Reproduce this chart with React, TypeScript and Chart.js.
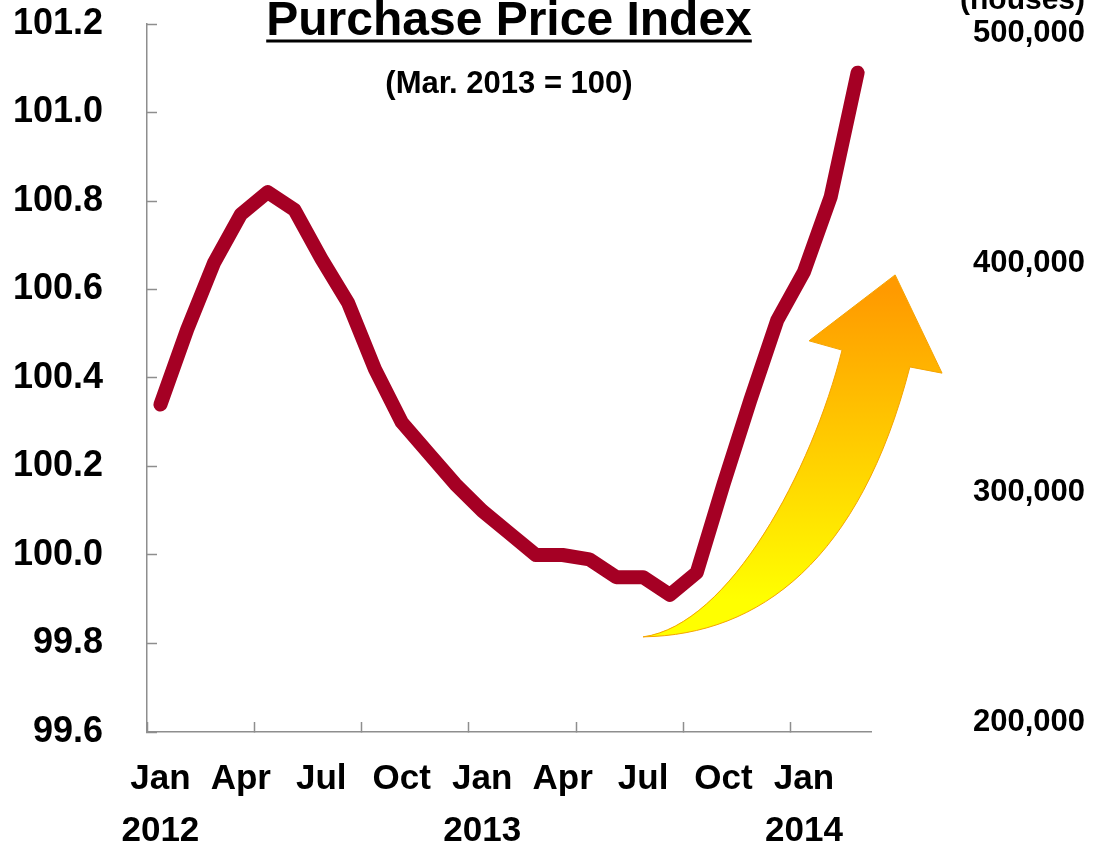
import React, { useEffect, useRef } from 'react';
import { Chart, registerables } from 'chart.js';

Chart.register(...registerables);

const FONT = "'Liberation Sans', Arial, Helvetica, sans-serif";

const categories: string[] = [
  'Jan 2012', 'Feb 2012', 'Mar 2012', 'Apr 2012', 'May 2012', 'Jun 2012',
  'Jul 2012', 'Aug 2012', 'Sep 2012', 'Oct 2012', 'Nov 2012', 'Dec 2012',
  'Jan 2013', 'Feb 2013', 'Mar 2013', 'Apr 2013', 'May 2013', 'Jun 2013',
  'Jul 2013', 'Aug 2013', 'Sep 2013', 'Oct 2013', 'Nov 2013', 'Dec 2013',
  'Jan 2014', 'Feb 2014', 'Mar 2014',
];

const priceIndex: number[] = [
  100.34, 100.51, 100.66, 100.77, 100.82, 100.78,
  100.67, 100.57, 100.42, 100.30, 100.23, 100.16,
  100.10, 100.05, 100.00, 100.00, 99.99, 99.95,
  99.95, 99.91, 99.96, 100.16, 100.35, 100.53,
  100.64, 100.81, 101.09,
];

const leftMin = 99.6;
const leftMax = 101.2;
const leftStep = 0.2;

const rightMin = 196000;
const rightMax = 504000;
const rightTicks: number[] = [200000, 300000, 400000, 500000];

const TITLE = 'Purchase Price Index';
const SUBTITLE = '(Mar. 2013 = 100)';
const RIGHT_UNIT = '(houses)';

// decorative arrow outline, in scale units: [category index, index value]
const arrowTail: [number, number] = [18.0, 99.815];
const arrowOuterCtrl1: [number, number] = [22.36, 99.819];
const arrowOuterCtrl2: [number, number] = [26.09, 99.989];
const arrowOuterEnd: [number, number] = [27.95, 100.425];
const arrowRightBarb: [number, number] = [29.15, 100.411];
const arrowTip: [number, number] = [27.4, 100.633];
const arrowLeftBarb: [number, number] = [24.19, 100.484];
const arrowNotch: [number, number] = [25.42, 100.463];
const arrowInnerCtrl1: [number, number] = [24.3, 100.192];
const arrowInnerCtrl2: [number, number] = [21.24, 99.842];
const arrowGradientEndValue = 99.9;

const AXIS_GRAY = '#8e8e8e';

const arrowPlugin = {
  id: 'arrowDeco',
  beforeDatasetsDraw(chart: any) {
    const { ctx } = chart;
    const xs = chart.scales.x;
    const ys = chart.scales.y;
    const P = (p: [number, number]) => [xs.getPixelForValue(p[0]), ys.getPixelForValue(p[1])];
    const t = P(arrowTail);
    const o1 = P(arrowOuterCtrl1);
    const o2 = P(arrowOuterCtrl2);
    const oe = P(arrowOuterEnd);
    const rb = P(arrowRightBarb);
    const tip = P(arrowTip);
    const lb = P(arrowLeftBarb);
    const n = P(arrowNotch);
    const i1 = P(arrowInnerCtrl1);
    const i2 = P(arrowInnerCtrl2);
    ctx.save();
    ctx.beginPath();
    ctx.moveTo(t[0], t[1]);
    ctx.bezierCurveTo(o1[0], o1[1], o2[0], o2[1], oe[0], oe[1]);
    ctx.lineTo(rb[0], rb[1]);
    ctx.lineTo(tip[0], tip[1]);
    ctx.lineTo(lb[0], lb[1]);
    ctx.lineTo(n[0], n[1]);
    ctx.bezierCurveTo(i1[0], i1[1], i2[0], i2[1], t[0], t[1]);
    ctx.closePath();
    const g = ctx.createLinearGradient(0, tip[1] + 15, 0, ys.getPixelForValue(arrowGradientEndValue));
    g.addColorStop(0, '#FF9A00');
    g.addColorStop(0.5, '#FFCC00');
    g.addColorStop(1, '#FFFF00');
    ctx.fillStyle = g;
    ctx.fill();
    ctx.lineWidth = 1;
    ctx.strokeStyle = '#F5A300';
    ctx.stroke();
    ctx.restore();
  },
};

const textPlugin = {
  id: 'titleTexts',
  afterDraw(chart: any) {
    const { ctx, chartArea } = chart;
    const cx = (chartArea.left + chartArea.right) / 2;
    ctx.save();
    ctx.fillStyle = '#000';
    ctx.textAlign = 'center';
    ctx.textBaseline = 'alphabetic';
    ctx.font = `bold 48px ${FONT}`;
    ctx.fillText(TITLE, cx, chartArea.top + 11);
    const w = ctx.measureText(TITLE).width;
    ctx.fillRect(cx - w / 2, chartArea.top + 15.5, w, 3);
    ctx.font = `bold 31px ${FONT}`;
    ctx.fillText(SUBTITLE, cx, chartArea.top + 69);
    ctx.textAlign = 'right';
    ctx.font = `bold 30px ${FONT}`;
    ctx.fillText(RIGHT_UNIT, chart.width - 9, 9);
    ctx.restore();
  },
};

const zeroPadding = (s: any) => {
  s.paddingTop = 0;
  s.paddingBottom = 0;
  s.paddingLeft = 0;
  s.paddingRight = 0;
};

export default function App() {
  const ref = useRef<HTMLCanvasElement>(null);

  useEffect(() => {
    if (!ref.current) return;
    const chart = new Chart(ref.current, {
      type: 'line',
      data: {
        labels: categories,
        datasets: [
          {
            label: 'Purchase Price Index',
            data: priceIndex,
            borderColor: '#A50024',
            backgroundColor: '#A50024',
            borderWidth: 14,
            borderCapStyle: 'round',
            borderJoinStyle: 'round',
            pointRadius: 0,
            tension: 0,
            fill: false,
            yAxisID: 'y',
          },
        ],
      },
      options: {
        animation: false,
        responsive: false,
        layout: { padding: { top: 24, left: 0, right: 0, bottom: 0 } },
        plugins: {
          legend: { display: false },
          tooltip: { enabled: false },
          title: { display: false },
        },
        scales: {
          x: {
            type: 'category',
            offset: true,
            grid: {
              display: true,
              offset: true,
              drawOnChartArea: false,
              drawTicks: true,
              tickLength: -10,
              tickWidth: 1.5,
              tickColor: (c: any) => (c.index % 4 === 0 ? AXIS_GRAY : 'rgba(0,0,0,0)'),
            },
            border: { display: true, color: AXIS_GRAY, width: 1.5 },
            ticks: {
              autoSkip: false,
              maxRotation: 0,
              minRotation: 0,
              padding: 31,
              color: '#000',
              font: { family: FONT, size: 35, weight: 'bold', lineHeight: 1.486 },
              callback: (_v: any, index: number) => {
                if (index % 3 !== 0) return '';
                const [m, y] = categories[index].split(' ');
                return m === 'Jan' ? [m, y] : m;
              },
            },
            afterFit: (s: any) => {
              s.height = 114;
              zeroPadding(s);
            },
          },
          y: {
            type: 'linear',
            position: 'left',
            min: leftMin,
            max: leftMax,
            grid: {
              display: true,
              drawOnChartArea: false,
              drawTicks: true,
              tickLength: -10,
              tickWidth: 1.5,
              tickColor: AXIS_GRAY,
            },
            border: { display: true, color: AXIS_GRAY, width: 1.5 },
            ticks: {
              stepSize: leftStep,
              padding: 54,
              color: '#000',
              font: { family: FONT, size: 36, weight: 'bold' },
              callback: (v: any) => Number(v).toFixed(1),
            },
            afterFit: (s: any) => {
              s.width = 147;
              zeroPadding(s);
            },
          },
          y2: {
            type: 'linear',
            position: 'right',
            min: rightMin,
            max: rightMax,
            grid: { display: false, drawTicks: false, drawOnChartArea: false },
            border: { display: false },
            afterBuildTicks: (s: any) => {
              s.ticks = rightTicks.map((v) => ({ value: v }));
            },
            ticks: {
              padding: 102,
              color: '#000',
              font: { family: FONT, size: 31, weight: 'bold' },
              callback: (v: any) => Number(v).toLocaleString('en-US'),
            },
            afterFit: (s: any) => {
              s.width = 223;
              zeroPadding(s);
            },
          },
        },
      } as any,
      plugins: [arrowPlugin, textPlugin],
    });
    return () => chart.destroy();
  }, []);

  return (
    <div style={{ position: 'fixed', left: 0, top: 0, width: 1094, height: 846, background: '#fff' }}>
      <canvas ref={ref} width={1094} height={846} style={{ display: 'block' }} />
    </div>
  );
}
